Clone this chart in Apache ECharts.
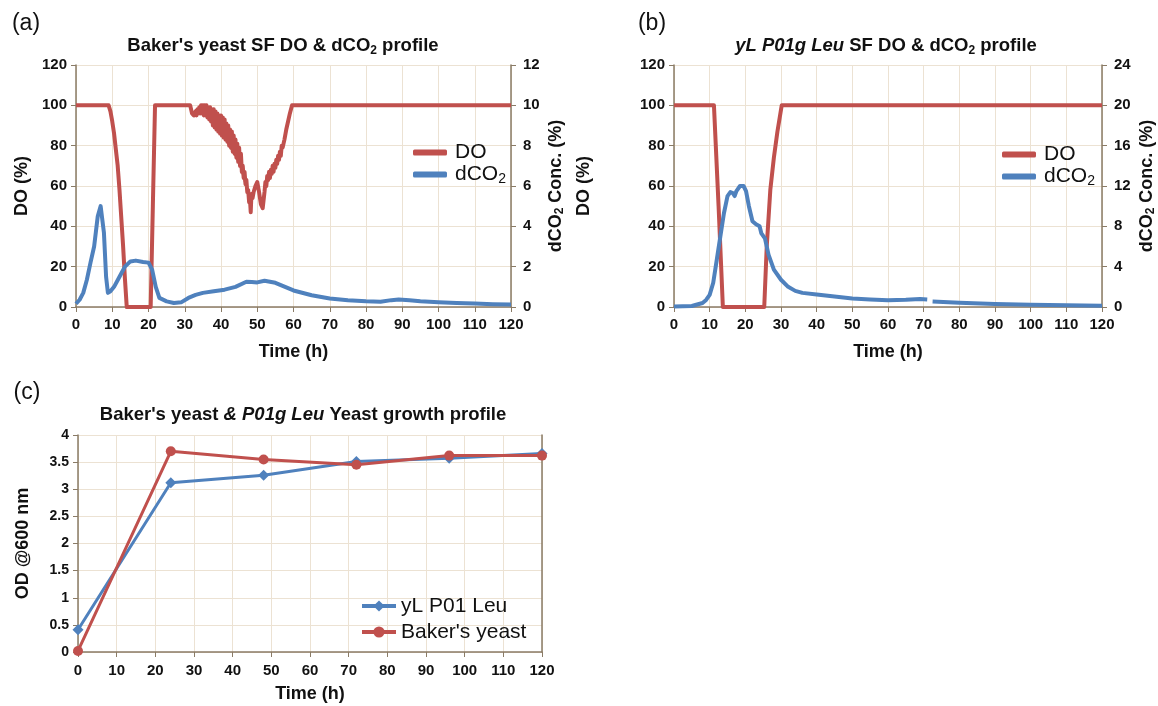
<!DOCTYPE html>
<html><head><meta charset="utf-8">
<script src="https://cdn.jsdelivr.net/npm/echarts@6/dist/echarts.min.js"></script>
<style>html,body{margin:0;padding:0;background:#fff}#c{width:1158px;height:706px}</style>
</head><body><div id="c"></div><script>
// ---------- data ----------
const timeTicks = [0,10,20,30,40,50,60,70,80,90,100,110,120];
// Panel (a): Baker's yeast DO (%) and dCO2 (%)
const doA = [[0,100],[9,100],[9.5,97],[10,92],[10.5,86],[11,78],[11.5,70],[12,58],[12.5,44],[13,30],[13.5,14],[14,0],[20.6,0],[21.2,50],[21.8,100],
  [31.5,100],[32,96],[32.5,95],
  [33,97],[33.25,95],[33.5,98],[33.75,96],[34,99],[34.25,96],[34.5,100],[34.75,96],[35,100],[35.25,95],[35.5,100],[35.75,95],
  [36,100],[36.25,94],[36.5,99],[36.75,93],[37,99],[37.25,92],[37.5,98],[37.75,90],[38,98],[38.25,89],[38.5,97],[38.75,88],
  [39,96],[39.25,87],[39.5,95],[39.75,86],[40,95],[40.25,85],[40.5,94],[40.75,84],[41,93],[41.25,83],[41.5,91],[41.75,82],
  [42,90],[42.25,80],[42.5,88],[42.75,79],[43,87],[43.25,77],[43.5,85],[43.75,76],[44,83],[44.25,74],[44.5,81],[44.75,72],
  [45,79],[45.25,70],[45.5,76],[45.75,67],[46,70],[46.25,64],[46.5,67],[46.75,61],[47,63],[47.25,57],[47.5,58],[47.75,52],
  [48,53],[48.2,47],[48.4,56],[48.7,54],[49,57],[49.5,60],[50,62],[50.5,57],[51,51],[51.5,49],[52,57],[52.25,62],[52.5,60],
  [52.75,65],[53,63],[53.25,67],[53.5,64],[53.75,68],[54,66],[54.25,70],[54.5,67],[54.75,71],[55,69],[55.25,73],[55.5,71],
  [55.75,75],[56,73],[56.25,77],[56.5,75],[56.75,80],[57,79],[57.5,83],[58,88],[58.5,92],[59,96],[59.6,100],[120,100]];
// envelope of the noisy DO band (a)
const bandT  = [33,34,35,36,37,38,39,40,41,42,43,44,45,46,47,48];
const bandLo = [95,96,95,94,92,89,87,85,83,80,77,74,70,64,57,49];
const bandHi = [98,99,100,100,99,98,96,95,93,90,87,83,79,70,63,53];
const co2A = [[0,0.16],[1,0.36],[2,0.7],[3,1.35],[4,2.2],[5,3.0],[6,4.5],[6.8,5.0],[7.3,5.0],[7.7,3.7],[8.3,1.5],[8.8,0.7],[9.5,0.78],
  [10.5,1.0],[12,1.5],[13.5,2.0],[15,2.26],[16.5,2.3],[17,2.35],[18.5,2.23],[20,2.2],[21,1.85],[22,1.0],[23,0.45],[25,0.28],[27,0.2],
  [29,0.23],[31,0.45],[33,0.6],[35,0.7],[38,0.78],[41,0.86],[44,1.0],[47,1.25],[48.5,1.24],[50,1.22],[52,1.3],[55,1.2],[57,1.05],
  [60,0.82],[65,0.58],[70,0.42],[75,0.34],[80,0.28],[84,0.26],[87,0.34],[89,0.37],[92,0.33],[95,0.28],[100,0.24],[105,0.2],[110,0.17],
  [115,0.14],[120,0.12]];
// Panel (b): yL P01g Leu DO (%) and dCO2 (%)
const doB = [[0,100],[11.2,100],[12.5,50],[13.7,0],[25.3,0],[26,30],[27,58],[28,74],[29,87],[30.2,100],[120,100]];
const co2B = [[0,0.06],[5,0.1],[8,0.4],[9,0.7],[10,1.2],[11,2.4],[12,4.7],[13,7.0],[14,9.3],[15,11],[15.8,11.4],[16.5,11.3],[17,11.0],
  [17.5,11.5],[18.5,12],[19.5,12],[20.2,11.5],[21,10],[22,8.5],[23,8.2],[24,8.0],[24.5,7.3],[25.5,6.8],[26.5,5.2],[28,3.7],[30,2.7],
  [32,2.0],[34,1.6],[36,1.4],[40,1.25],[45,1.05],[50,0.85],[55,0.75],[60,0.68],[65,0.72],[69,0.8],[71,0.75],[71.5,null],[72.5,0.55],
  [80,0.42],[90,0.3],[100,0.22],[110,0.17],[120,0.12]];
// Panel (c): OD600 growth
const odTime = [0,24,48,72,96,120];
const odLeu = [0.41,3.12,3.26,3.51,3.57,3.66];
const odBaker = [0.02,3.7,3.55,3.45,3.62,3.62];

// ---------- style ----------
const FONT = '"Liberation Sans", Arial, sans-serif';
const RED = '#c0504d', BLUE = '#4f81bd';
const AXIS = '#8a7b66', GRIDC = '#ece2d3', TXT = '#111';
const sub = {fontFamily: FONT, fontWeight: 'bold', fontSize: 12, lineHeight: 12, verticalAlign: 'bottom', color: TXT};

function xAx(gi, gap, margin) {
  return {type: 'value', gridIndex: gi, min: 0, max: 120, interval: 10,
    axisLine: {lineStyle: {color: AXIS, width: 1.5}}, axisTick: {length: 5, lineStyle: {color: AXIS}},
    axisLabel: {fontFamily: FONT, fontSize: 15, fontWeight: 'bold', color: TXT, margin: margin,
      formatter: v => timeTicks.includes(v) ? String(v) : ''},
    splitLine: {show: true, lineStyle: {color: GRIDC, width: 1}},
    name: 'Time (h)', nameLocation: 'middle', nameGap: gap,
    nameTextStyle: {fontFamily: FONT, fontSize: 18, fontWeight: 'bold', color: TXT}};
}
function yAx(gi, pos, max, interval, name, gap, split, labelSize) {
  return {type: 'value', gridIndex: gi, position: pos, min: 0, max: max, interval: interval,
    axisLine: {show: true, lineStyle: {color: AXIS, width: 1.5}}, axisTick: {show: true, length: 5, lineStyle: {color: AXIS}},
    axisLabel: {fontFamily: FONT, fontSize: labelSize || 15, fontWeight: 'bold', color: TXT, margin: pos === 'left' ? 9 : 12},
    splitLine: {show: split, lineStyle: {color: GRIDC, width: 1}},
    name: name, nameLocation: 'middle', nameGap: gap, nameRotate: 90,
    nameTextStyle: {fontFamily: FONT, fontSize: 18, fontWeight: 'bold', color: TXT,
      rich: {n: {fontFamily: FONT, fontSize: 18, fontWeight: 'bold', lineHeight: 20, color: TXT}, s: sub}}};
}
const legRich = {n: {fontFamily: FONT, fontSize: 21, lineHeight: 24, color: TXT, padding: [0,0,0,3]},
                 s: {fontFamily: FONT, fontSize: 14, lineHeight: 14, verticalAlign: 'bottom', color: TXT}};
const legFmt = name => name === 'dCO2' ? '{n|dCO}{s|2}' : '{n|' + name + '}';
function lineSeries(name, data, color, xi, yi) {
  return {type: 'line', name: name, data: data, xAxisIndex: xi, yAxisIndex: yi, showSymbol: false, connectNulls: false,
    lineStyle: {color: color, width: 4, join: 'round'}, itemStyle: {color: color}, animation: false, z: 3};
}
const titleRich = {
  b: {fontFamily: FONT, fontSize: 18.5, fontWeight: 'bold', lineHeight: 22, fill: TXT, color: TXT},
  i: {fontFamily: FONT, fontSize: 18.5, fontWeight: 'bold', fontStyle: 'italic', lineHeight: 22, fill: TXT, color: TXT},
  s: {fontFamily: FONT, fontSize: 12, fontWeight: 'bold', lineHeight: 12, verticalAlign: 'bottom', fill: TXT, color: TXT},
  a: {fontFamily: FONT, fontSize: 18, fontWeight: 'bold', lineHeight: 20, fill: TXT, color: TXT}
};
function gText(x, y, text, size, extra) {
  return Object.assign({type: 'text', x: x, y: y, style: {text: text, fontFamily: FONT, fontSize: size, fill: TXT,
    align: 'center', verticalAlign: 'middle', rich: titleRich}}, extra || {});
}

const option = {
  animation: false,
  backgroundColor: '#fff',
  grid: [
    {left: 76, top: 65, width: 435, height: 242},
    {left: 674, top: 65, width: 430, height: 242},
    {left: 78, top: 435, width: 464, height: 217}
  ],
  xAxis: [xAx(0, 36, 10), xAx(1, 36, 10), xAx(2, 33, 11)],
  yAxis: [
    yAx(0, 'left', 120, 20, 'DO (%)', 45, true),
    yAx(0, 'right', 12, 2, '{n|dCO}{s|2}{n| Conc. (%)}', 35, false),
    yAx(1, 'left', 120, 20, '', 45, true),
    yAx(1, 'right', 24, 4, '{n|dCO}{s|2}{n| Conc. (%)}', 35, false),
    yAx(2, 'left', 4, 0.5, 'OD @600 nm', 46, true, 14),
    {type: 'value', gridIndex: 2, position: 'right', min: 0, max: 4, interval: 0.5,
      axisLine: {show: true, lineStyle: {color: AXIS, width: 1.5}}, axisTick: {show: false}, axisLabel: {show: false}, splitLine: {show: false}}
  ],
  legend: [
    {orient: 'vertical', left: 413, top: 142, padding: 0, itemWidth: 34, itemHeight: 6, itemGap: 1, icon: 'roundRect',
      data: ['DO', 'dCO2'], formatter: legFmt, textStyle: {rich: legRich}, selectedMode: false},
    {orient: 'vertical', left: 1002, top: 144, padding: 0, itemWidth: 34, itemHeight: 6, itemGap: 1, icon: 'roundRect',
      data: ['DO', 'dCO2'], formatter: legFmt, textStyle: {rich: legRich}, selectedMode: false},
    {orient: 'vertical', left: 360, top: 594, padding: 0, itemWidth: 34, itemHeight: 14, itemGap: 2,
      lineStyle: {width: 4},
      data: ['yL P01 Leu', "Baker's yeast"], textStyle: {fontFamily: FONT, fontSize: 21, color: TXT, lineHeight: 24}, selectedMode: false}
  ],
  graphic: [
    gText(26, 24, '(a)', 23),
    gText(652, 24, '(b)', 23),
    gText(27, 393, '(c)', 23),
    gText(283, 46, "{b|Baker's yeast SF DO & dCO}{s|2}{b| profile}", 18),
    gText(886, 46, "{i|yL P01g Leu}{b| SF DO & dCO}{s|2}{b| profile}", 18),
    gText(303, 415, "{b|Baker's yeast }{i|& P01g Leu}{b| Yeast growth profile}", 18),
    gText(584, 186, '{a|DO (%)}', 18, {rotation: Math.PI / 2})
  ],
  series: [
    {type: 'custom', name: 'band', xAxisIndex: 0, yAxisIndex: 0, silent: true, z: 2, data: [[bandT[0], bandLo[0]]],
      renderItem: function (params, api) {
        const pts = [];
        for (let i = 0; i < bandT.length; i++) pts.push(api.coord([bandT[i], bandHi[i]]));
        for (let i = bandT.length - 1; i >= 0; i--) pts.push(api.coord([bandT[i], bandLo[i]]));
        return {type: 'polygon', shape: {points: pts}, style: {fill: RED}};
      }},
    lineSeries('DO', doA, RED, 0, 0),
    lineSeries('dCO2', co2A, BLUE, 0, 1),
    lineSeries('DO', doB, RED, 1, 2),
    lineSeries('dCO2', co2B, BLUE, 1, 3),
    {type: 'line', name: 'yL P01 Leu', data: odTime.map((t, i) => [t, odLeu[i]]), xAxisIndex: 2, yAxisIndex: 4,
      symbol: 'diamond', symbolSize: 11, lineStyle: {color: BLUE, width: 3}, itemStyle: {color: BLUE}},
    {type: 'line', name: "Baker's yeast", data: odTime.map((t, i) => [t, odBaker[i]]), xAxisIndex: 2, yAxisIndex: 4,
      symbol: 'circle', symbolSize: 10, lineStyle: {color: RED, width: 3}, itemStyle: {color: RED}}
  ]
};
const chart = echarts.init(document.getElementById('c'), null, {renderer: 'canvas'});
chart.setOption(option);
</script></body></html>
